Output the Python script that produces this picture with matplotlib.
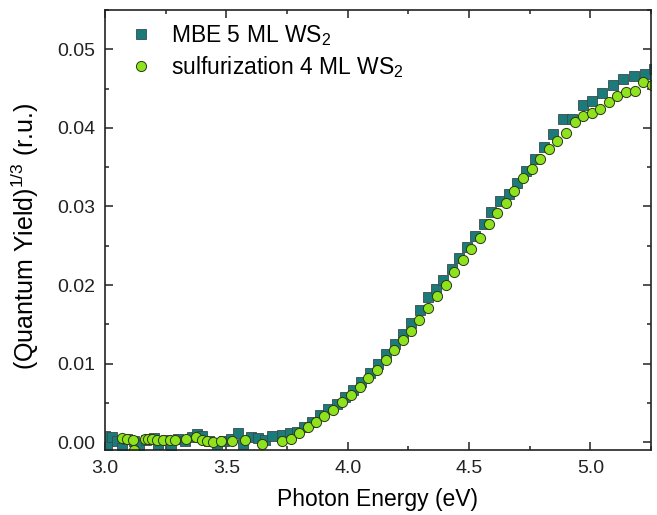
import matplotlib
matplotlib.use("Agg")
import matplotlib.pyplot as plt
from matplotlib.ticker import MultipleLocator

plt.rcParams['font.family'] = ['Liberation Sans', 'DejaVu Sans']
plt.rcParams['mathtext.fontset'] = 'custom'
plt.rcParams['mathtext.rm'] = 'Liberation Sans'

# MBE 5 ML WS2 (squares)
mbe_e = [3.00, 3.01, 3.03, 3.05, 3.07, 3.09, 3.12, 3.14, 3.17, 3.20, 3.22, 3.25,
         3.27, 3.30, 3.33, 3.36, 3.38, 3.40, 3.43, 3.46, 3.49, 3.52, 3.55, 3.57,
         3.60, 3.63, 3.66, 3.69, 3.729, 3.763, 3.791, 3.818, 3.852, 3.887, 3.921,
         3.955, 3.989, 4.023, 4.057, 4.091, 4.125, 4.159, 4.193, 4.227, 4.261,
         4.297, 4.333, 4.365, 4.394, 4.430, 4.460, 4.492, 4.526, 4.560, 4.592,
         4.626, 4.666, 4.699, 4.736, 4.773, 4.810, 4.847, 4.889, 4.926, 4.971,
         5.008, 5.049, 5.095, 5.136, 5.181, 5.227, 5.264]
mbe_qy = [0.0008, -0.0005, 0.0006, 0.0002, -0.0008, 0.0004, 0.0001, -0.0004,
          0.0003, 0.0005, -0.0002, 0.0003, -0.0006, 0.0004, 0.0002, 0.0007,
          0.0010, 0.0008, 0.0002, -0.0003, 0.0001, 0.0004, 0.0012, -0.0002,
          0.0007, 0.0005, 0.0003, 0.0008, 0.0009, 0.0011, 0.0013, 0.0019,
          0.0026, 0.0034, 0.0042, 0.0049, 0.0057, 0.0066, 0.0077, 0.0088,
          0.0100, 0.0112, 0.0125, 0.0138, 0.0152, 0.0168, 0.0185, 0.0195,
          0.0206, 0.0220, 0.0234, 0.0248, 0.0262, 0.0277, 0.0293, 0.0307,
          0.0316, 0.0330, 0.0345, 0.0360, 0.0375, 0.0392, 0.0411, 0.0411,
          0.0429, 0.0434, 0.0444, 0.0454, 0.0462, 0.0466, 0.0468, 0.0475]

# sulfurization 4 ML WS2 (circles)
sul_e = [3.069, 3.090, 3.114, 3.119, 3.165, 3.179, 3.193, 3.214, 3.241, 3.268,
         3.289, 3.333, 3.375, 3.399, 3.422, 3.444, 3.478, 3.524, 3.577, 3.646,
         3.728, 3.765, 3.801, 3.836, 3.869, 3.904, 3.940, 3.977, 4.012, 4.049,
         4.083, 4.119, 4.156, 4.191, 4.226, 4.262, 4.296, 4.332, 4.367, 4.404,
         4.439, 4.474, 4.509, 4.546, 4.581, 4.616, 4.652, 4.687, 4.724, 4.761,
         4.794, 4.831, 4.864, 4.901, 4.938, 4.971, 5.008, 5.041, 5.078, 5.111,
         5.148, 5.186, 5.219, 5.256]
sul_qy = [0.0005, 0.0004, 0.0003, -0.0010, 0.0004, 0.0004, 0.0004, 0.0003,
          0.0003, 0.0003, 0.0003, 0.0004, 0.0006, 0.0003, 0.0001, 0.0000,
          0.0001, 0.0001, 0.0003, -0.0002, 0.0002, 0.0004, 0.0012, 0.0019,
          0.0025, 0.0033, 0.0041, 0.0051, 0.0060, 0.0070, 0.0081, 0.0092,
          0.0104, 0.0117, 0.0130, 0.0142, 0.0156, 0.0171, 0.0186, 0.0200,
          0.0217, 0.0232, 0.0246, 0.0260, 0.0277, 0.0292, 0.0304, 0.0319,
          0.0336, 0.0347, 0.0360, 0.0373, 0.0383, 0.0394, 0.0408, 0.0415,
          0.0419, 0.0424, 0.0433, 0.0440, 0.0445, 0.0447, 0.0458, 0.0454]

fig = plt.figure(figsize=(6.57, 5.15), dpi=100)
ax = fig.add_axes([105/657, 1 - 450/515, 546/657, 440/515])

ax.plot(mbe_e, mbe_qy, ls='none', marker='s', ms=6.6, mfc='#1b7b7b',
        mec='#3a4a4a', mew=0.6, label='MBE 5 ML WS$_2$')
ax.plot(sul_e, sul_qy, ls='none', marker='o', ms=7.3, mfc='#8fe21e',
        mec='#2a3a10', mew=0.7, label='sulfurization 4 ML WS$_2$')

ax.set_xlim(3.0, 5.25)
ax.set_ylim(-0.001, 0.055)
ax.xaxis.set_major_locator(MultipleLocator(0.5))
ax.xaxis.set_minor_locator(MultipleLocator(0.25))
ax.yaxis.set_major_locator(MultipleLocator(0.01))
ax.yaxis.set_minor_locator(MultipleLocator(0.005))
ax.xaxis.set_major_formatter(plt.FormatStrFormatter('%.1f'))
ax.yaxis.set_major_formatter(plt.FormatStrFormatter('%.2f'))
ax.tick_params(which='both', direction='in', top=True, right=True, width=1.1,
               labelsize=14, colors='#222222', pad=7)
ax.tick_params(which='major', length=6)
ax.tick_params(which='minor', length=3)
for s in ax.spines.values():
    s.set_linewidth(1.2)
    s.set_color('#222222')

ax.set_xlabel('Photon Energy (eV)', fontsize=16.5, labelpad=8)
ax.set_ylabel('(Quantum Yield)$^{1/3}$ (r.u.)', fontsize=18)
ax.yaxis.set_label_coords(-0.117, 0.485)

ax.legend(loc='upper left', bbox_to_anchor=(0.022, 1.0), frameon=False,
          fontsize=16.5, handletextpad=0.8, labelspacing=0.3,
          borderaxespad=0.2, borderpad=0.35, handlelength=1.0,
          markerscale=1.0)

fig.savefig('out.png', dpi=100)
